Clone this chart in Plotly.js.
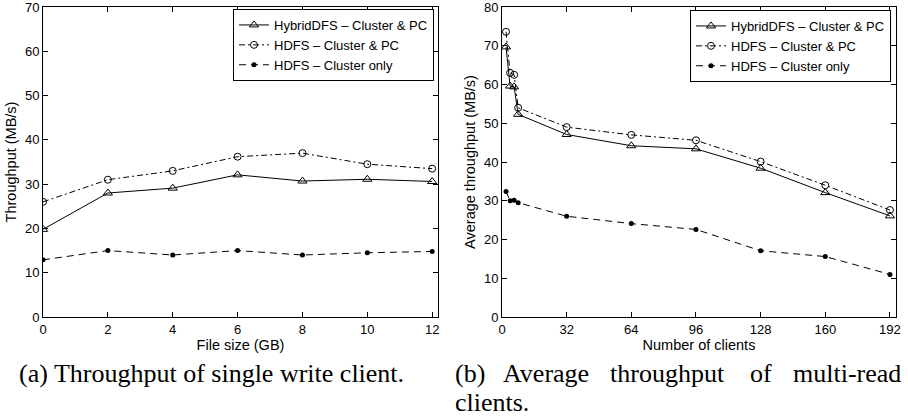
<!DOCTYPE html>
<html>
<head>
<meta charset="utf-8">
<script src="https://cdn.plot.ly/plotly-3.0.1.min.js"></script>
<style>html,body{margin:0;padding:0;background:#fff;}#chart{width:908px;height:418px;}</style>
</head>
<body>
<div id="chart"></div>
<script>
// ---- Data: (a) single write client ----
const fileSizeGB = [0, 2, 4, 6, 8, 10, 12];
const writeHybridPC = [19.8, 28.0, 29.1, 32.1, 30.7, 31.1, 30.6];
const writeHdfsPC = [26.0, 31.0, 33.0, 36.2, 37.0, 34.5, 33.5];
const writeHdfsCluster = [12.9, 15.0, 14.0, 15.0, 14.0, 14.5, 14.8];

// ---- Data: (b) multi-read clients ----
const numClients = [2, 4, 6, 8, 32, 64, 96, 128, 160, 192];
const readHybridPC = [69.7, 59.6, 59.4, 52.3, 47.1, 44.2, 43.4, 38.4, 32.1, 26.1];
const readHdfsPC = [73.6, 63.0, 62.5, 54.0, 49.0, 47.0, 45.6, 40.1, 34.0, 27.6];
const readHdfsCluster = [32.4, 30.0, 30.1, 29.5, 26.0, 24.1, 22.6, 17.1, 15.6, 11.0];

const xTicksA = [0, 2, 4, 6, 8, 10, 12];
const yTicksA = [0, 10, 20, 30, 40, 50, 60, 70];
const xTicksB = [0, 32, 64, 96, 128, 160, 192];
const yTicksB = [0, 10, 20, 30, 40, 50, 60, 70, 80];

const seriesNames = ['HybridDFS \u2013 Cluster & PC', 'HDFS \u2013 Cluster & PC', 'HDFS \u2013 Cluster only'];

const W = 908, H = 418;
const px = v => v / W;
const py = v => (H - v) / H;

const styles = [
  {line: {color: '#000', width: 1, dash: 'solid'}, marker: {symbol: 'triangle-up-open', size: 8, color: '#000', line: {color: '#000', width: 1}}},
  {line: {color: '#000', width: 1, dash: '6px,3px,2px,3px'}, marker: {symbol: 'circle-open', size: 7, color: '#000', line: {color: '#000', width: 1}}},
  {line: {color: '#000', width: 1, dash: '7px,5px'}, marker: {symbol: 'circle', size: 5, color: '#000'}}
];

function mk(x, y, i, xa, ya, leg) {
  return {x: x, y: y, name: seriesNames[i], type: 'scatter', mode: 'lines+markers',
    xaxis: xa, yaxis: ya, legend: leg, line: styles[i].line, marker: styles[i].marker};
}

const data = [
  mk(fileSizeGB, writeHybridPC, 0, 'x', 'y', 'legend'),
  mk(fileSizeGB, writeHdfsPC, 1, 'x', 'y', 'legend'),
  mk(fileSizeGB, writeHdfsCluster, 2, 'x', 'y', 'legend'),
  mk(numClients, readHybridPC, 0, 'x2', 'y2', 'legend2'),
  mk(numClients, readHdfsPC, 1, 'x2', 'y2', 'legend2'),
  mk(numClients, readHdfsCluster, 2, 'x2', 'y2', 'legend2')
];

const sans = 'Liberation Sans, Arial, sans-serif';
const tickFont = {family: sans, size: 13, color: '#000'};
const titleFont = {family: sans, size: 14.5, color: '#000'};
const axisBase = {
  showline: true, linecolor: '#000', linewidth: 1, mirror: 'ticks',
  ticks: 'inside', ticklen: 5, tickcolor: '#000', tickwidth: 1,
  showgrid: false, zeroline: false, tickfont: tickFont, fixedrange: true,
  ticklabeloverflow: 'allow'
};

const legendBase = {
  bgcolor: '#fff', bordercolor: '#000', borderwidth: 1,
  font: {family: sans, size: 13, color: '#000'},
  xanchor: 'right', yanchor: 'top', itemwidth: 30, tracegroupgap: 0,
  xref: 'paper', yref: 'paper'
};

const capFont = {family: 'Liberation Serif, Times New Roman, serif', size: 26, color: '#000'};
function cap(text, x, y, anchor, yanchor) {
  return {text: text, xref: 'paper', yref: 'paper', x: px(x), y: py(y),
    xanchor: anchor || 'left', yanchor: yanchor || 'middle', showarrow: false, font: capFont, borderpad: 0};
}

const layout = {
  width: W, height: H,
  margin: {l: 0, r: 0, t: 0, b: 0},
  paper_bgcolor: '#fff', plot_bgcolor: '#fff',
  showlegend: true,
  xaxis: Object.assign({}, axisBase, {domain: [px(43), px(438)], range: [0, 12.18], tickvals: xTicksA, anchor: 'y',
    title: {text: 'File size (GB)', font: titleFont, standoff: 2}}),
  yaxis: Object.assign({}, axisBase, {domain: [py(317), py(7)], range: [0, 70], tickvals: yTicksA, anchor: 'x',
    title: {text: 'Throughput (MB/s)', font: titleFont, standoff: 4}}),
  xaxis2: Object.assign({}, axisBase, {domain: [px(502), px(896)], range: [0, 195], tickvals: xTicksB, anchor: 'y2',
    title: {text: 'Number of clients', font: titleFont, standoff: 2}}),
  yaxis2: Object.assign({}, axisBase, {domain: [py(317), py(7)], range: [0, 80], tickvals: yTicksB, anchor: 'x2',
    title: {text: 'Average throughput (MB/s)', font: titleFont, standoff: 4}}),
  legend: Object.assign({}, legendBase, {x: px(434), y: py(9)}),
  legend2: Object.assign({}, legendBase, {x: px(891), y: py(10)}),
  annotations: [
    cap('(a) Throughput of single write client.', 18, 373),
    cap('(b)', 454, 373),
    cap('Average', 502, 373),
    cap('throughput', 609, 373),
    cap('of', 749, 373),
    cap('multi-read', 902, 373, 'right'),
    cap('clients.', 454, 417.5, 'left', 'bottom')
  ]
};

Plotly.newPlot('chart', data, layout, {displayModeBar: false, staticPlot: true});
</script>
</body>
</html>
